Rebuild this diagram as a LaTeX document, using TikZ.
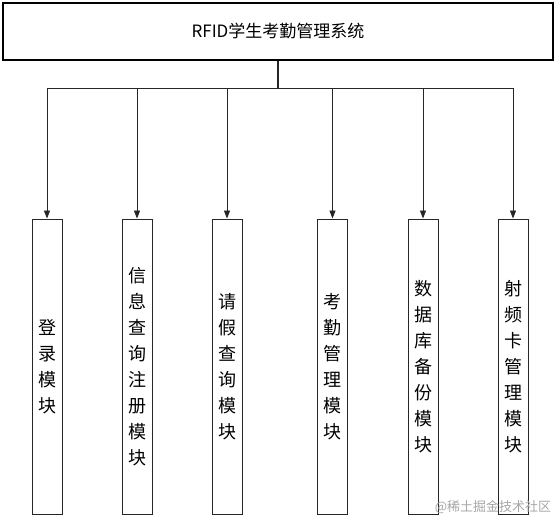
\documentclass[tikz,border=0pt]{standalone}
\usepackage{fontspec}
\newfontfamily\cjk{Noto Sans CJK SC}
\usetikzlibrary{arrows.meta}
\begin{document}
\begin{tikzpicture}[x=1pt,y=-1pt,
  titlebox/.style={draw=black, line width=1.3pt, minimum width=550pt, minimum height=57pt, inner sep=0pt, font=\cjk\fontsize{17}{20}\selectfont},
  modbox/.style={draw=black!85, line width=0.9pt, minimum width=30pt, minimum height=295pt, inner sep=0pt, align=center, font=\cjk\fontsize{18}{26}\selectfont},
  conn/.style={draw=black!85, line width=0.9pt},
  arr/.style={conn, -{Triangle[length=8pt,width=6pt]}}]
\useasboundingbox (0,0) rectangle (556,518);
\node[titlebox] (title) at (278,31.5) {RFID学生考勤管理系统};
\node[modbox] (m1) at (47,366.5) {登\\录\\模\\块};
\node[modbox] (m2) at (137,366.5) {信\\息\\查\\询\\注\\册\\模\\块};
\node[modbox] (m3) at (227,366.5) {请\\假\\查\\询\\模\\块};
\node[modbox] (m4) at (332.5,366.5) {考\\勤\\管\\理\\模\\块};
\node[modbox] (m5) at (423,366.5) {数\\据\\库\\备\\份\\模\\块};
\node[modbox] (m6) at (513,366.5) {射\\频\\卡\\管\\理\\模\\块};
\coordinate (hub) at (278,88);
\draw[conn, line width=1.8pt] (title.south) -- (hub);
\draw[conn] (m1.north |- hub) -- (m6.north |- hub);
\foreach \m in {m1,m2,m3,m4,m5,m6}
  \draw[arr] (\m.north |- hub) -- (\m.north);
\node[text=black!35, font=\cjk\fontsize{13}{13}\selectfont, inner sep=0pt] (wm) at (493,507) {@稀土掘金技术社区};
\end{tikzpicture}
\end{document}
